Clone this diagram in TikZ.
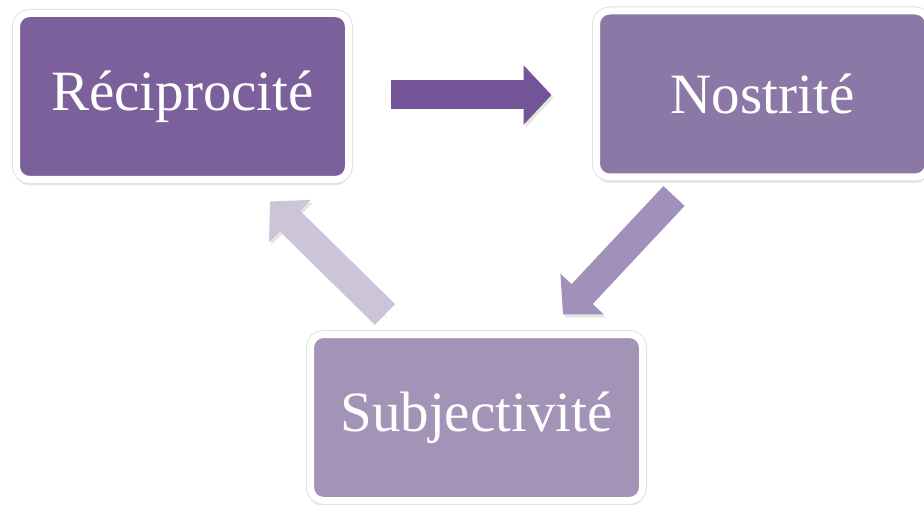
\documentclass[tikz,border=0pt]{standalone}
\usepackage{fontspec}
\setmainfont{Liberation Serif}
\usetikzlibrary{arrows.meta,shadows}
\definecolor{recfill}{RGB}{123,96,155}
\definecolor{nosfill}{RGB}{140,120,166}
\definecolor{subfill}{RGB}{163,147,183}
\definecolor{arrowone}{RGB}{115,84,150}
\definecolor{arrowtwo}{RGB}{160,144,186}
\definecolor{arrowthree}{RGB}{204,196,217}
\begin{document}
\begin{tikzpicture}[x=1pt, y=-1pt,
    every node/.style={font=\fontsize{57}{60}\selectfont, text=white},
    box/.style={rectangle, rounded corners=13pt, draw=white, line width=7pt,
      minimum width=332pt, minimum height=166pt, inner sep=0pt,
      drop shadow={shadow xshift=0pt, shadow yshift=-6pt, opacity=0.2},
      preaction={draw=black!12, line width=9pt}},
    flow/.style={line width=29pt, -{Triangle[length=28pt, width=58pt]},
      preaction={draw=black, opacity=0.1, transform canvas={shift={(2pt,-3pt)}}}}]
\useasboundingbox (0,0) rectangle (924,505);
\node[box, fill=recfill] (rec) at (182.5,96.5) {Réciprocité};
\node[box, fill=nosfill] (nos) at (762.5,94) {Nostrité};
\node[box, fill=subfill] (sub) at (476.5,417.5) {Subjectivité};
\draw[flow, draw=arrowone] ([shift={(38.5,-1.5)}]rec.east) -- ([shift={(-41.5,1)}]nos.west);
\draw[flow, draw=arrowtwo] ([shift={(-88.5,15.5)}]nos.south) -- ([shift={(86.5,-16.5)}]sub.north);
\draw[flow, draw=arrowthree] ([shift={(-91.5,-16.5)}]sub.north) -- ([shift={(87.5,18.5)}]rec.south);
\end{tikzpicture}
\end{document}
